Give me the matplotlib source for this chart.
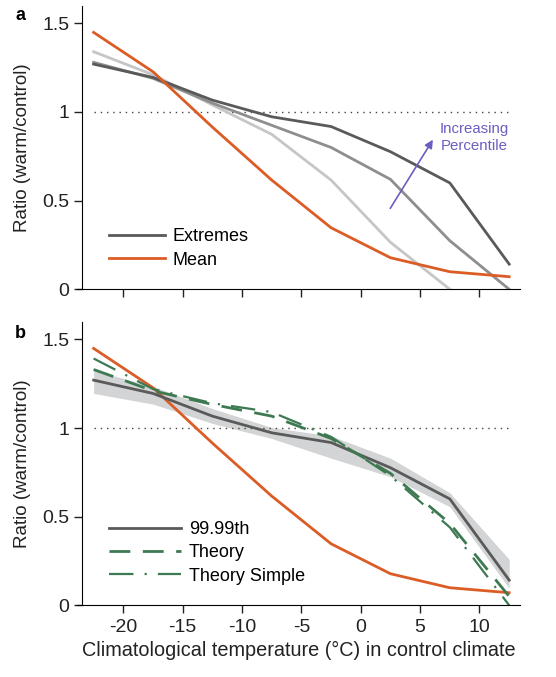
import numpy as np
import matplotlib
matplotlib.use('Agg')
from matplotlib import pyplot as plt

plt.rcParams['font.family'] = ['Liberation Sans', 'DejaVu Sans']
plt.rcParams['axes.unicode_minus'] = False

# climatological temperature bins (deg C)
temps = [-22.5, -17.5, -12.5, -7.5, -2.5, 2.5, 7.5, 12.5]

# panel a: ratio warm/control
extreme_9999 = [1.27, 1.195, 1.067, 0.973, 0.918, 0.776, 0.60, 0.142]
extreme_999 = [1.28, 1.19, 1.05, 0.925, 0.80, 0.62, 0.274, 0.0]
extreme_99 = [1.34, 1.21, 1.04, 0.874, 0.616, 0.265, 0.0, np.nan]
mean_ratio = [1.449, 1.227, 0.915, 0.616, 0.347, 0.178, 0.099, 0.071]

# panel b
band_upper = [1.325, 1.235, 1.11, 1.003, 0.955, 0.83, 0.635, 0.259]
band_lower = [1.195, 1.135, 1.026, 0.941, 0.83, 0.725, 0.556, 0.096]
theory = [1.33, 1.21, 1.133, 1.067, 0.941, 0.744, 0.462, 0.05]
theory_simple = [1.392, 1.22, 1.14, 1.09, 0.95, 0.73, 0.44, 0.0]

xticks = [-20, -15, -10, -5, 0, 5, 10]
yticks = [0, 0.5, 1, 1.5]
yticklabels = ['0', '0.5', '1', '1.5']

DARK = '#5a5a5a'
MID = '#8e8e8e'
LIGHT = '#c6c6c6'
ORANGE = '#dc5c26'
GREEN = '#3d7a52'
PURPLE = '#6a5fc0'

fig = plt.figure(figsize=(5.56, 6.77), dpi=100)
ax_a = fig.add_axes([0.1385, 0.5727, 0.7965, 0.419])
ax_b = fig.add_axes([0.1385, 0.1059, 0.7965, 0.419])

for ax in (ax_a, ax_b):
    ax.set_xlim(-23.9, 13.4)
    ax.set_ylim(0, 1.6)
    ax.spines['top'].set_visible(False)
    ax.spines['right'].set_visible(False)
    ax.spines['left'].set_position(('data', -23.45))
    ax.spines['left'].set_bounds(0, 1.6)
    ax.set_xticks(xticks)
    ax.set_yticks(yticks)
    ax.set_yticklabels(yticklabels)
    ax.tick_params(direction='out', length=6, width=1, labelsize=14, colors='#222222')
    ax.set_ylabel('Ratio (warm/control)', fontsize=13.5, color='#222222')
    ax.yaxis.set_label_coords(-0.105, 0.5)
    ax.plot([temps[0], temps[-1]], [1, 1], ls=(0, (1, 3.5)), color='#444444', lw=1)

ax_a.tick_params(axis='x', labelbottom=False)

# panel a
ax_a.plot(temps, extreme_99, color=LIGHT, lw=2)
ax_a.plot(temps, extreme_999, color=MID, lw=2)
ax_a.plot(temps, extreme_9999, color=DARK, lw=2, label='Extremes')
ax_a.plot(temps, mean_ratio, color=ORANGE, lw=2, label='Mean')
ax_a.legend(loc='lower left', bbox_to_anchor=(0.035, 0.015), frameon=False, fontsize=13,
            handlelength=3.1, handletextpad=0.45, labelspacing=0.35)
ax_a.annotate('', xy=(6.2, 0.857), xytext=(2.36, 0.443),
              arrowprops=dict(arrowstyle='-|>', color=PURPLE, lw=1.2, mutation_scale=12))
ax_a.text(9.6, 0.856, 'Increasing\nPercentile', color=PURPLE, fontsize=10.8,
          ha='center', va='center', linespacing=1.3)
fig.text(20 / 556, 1 - 16 / 677, 'a', fontsize=13, fontweight='bold', ha='center', va='center')

# panel b
ax_b.fill_between(temps, band_lower, band_upper, color='#d3d4d5', lw=0)
ax_b.plot(temps, mean_ratio, color=ORANGE, lw=2)
ax_b.plot(temps, extreme_9999, color=DARK, lw=2, label='99.99th')
ax_b.plot(temps, theory, color=GREEN, lw=2, ls=(0, (7.5, 4.5)), label='Theory')
ax_b.plot(temps, theory_simple, color=GREEN, lw=1.6, ls=(0, (11, 5, 1, 5)), label='Theory Simple')
ax_b.legend(loc='lower left', bbox_to_anchor=(0.035, 0.015), frameon=False, fontsize=13,
            handlelength=4.0, handletextpad=0.45, labelspacing=0.35)
fig.text(20 / 556, 1 - 333 / 677, 'b', fontsize=13, fontweight='bold', ha='center', va='center')
ax_b.set_xlabel('Climatological temperature (°C) in control climate', fontsize=14.3, color='#222222')

fig.savefig('out.png', dpi=100)
